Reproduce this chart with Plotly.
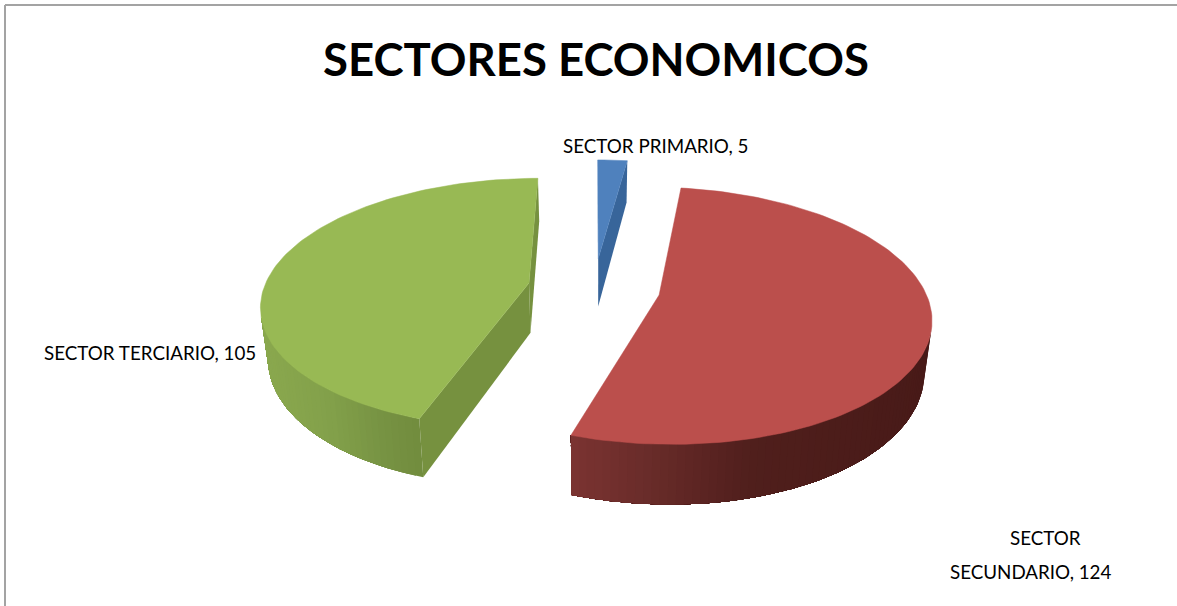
import math
import plotly.graph_objects as go

# ---- data ----
categories = ["SECTOR PRIMARIO", "SECTOR SECUNDARIO", "SECTOR TERCIARIO"]
values = [5, 124, 105]
top_colors = ["#4f81bd", "#bb4f4c", "#98b954"]
radial_wall_colors = ["#38659a", "#5a2422", "#76913f"]
# wall shading stops: (fraction across the visible wall, colour)
wall_stops = [
    [(0, (0x38, 0x65, 0x9a)), (1, (0x38, 0x65, 0x9a))],
    [(0, (0x7a, 0x33, 0x31)), (0.2, (0x6a, 0x2c, 0x2a)), (0.5, (0x50, 0x1f, 0x1c)), (1, (0x48, 0x1a, 0x18))],
    [(0, (0x8a, 0xa8, 0x4e)), (0.45, (0x82, 0xa0, 0x4a)), (0.8, (0x76, 0x92, 0x42)), (1, (0x72, 0x8d, 0x3e))],
]
title_text = "SECTORES ECONOMICOS"

# ---- projection of the tilted, exploded pie ----
W, H = 1177, 606
CX, CY = 594.0, 288.0
A, B, K = 265.0, 123.0, 0.16
A_B, B_B, DROP = 259.0, 131.0, 50.0
EXPLODE = 0.25


def project(x, v, bottom=False):
    d = 1 + K * v
    if bottom:
        return CX + A_B * x / d, CY + DROP - B_B * v / d
    return CX + A * x / d, CY - B * v / d


def mix(stops, f):
    for (f0, c0), (f1, c1) in zip(stops, stops[1:]):
        if f <= f1:
            t = (f - f0) / (f1 - f0) if f1 > f0 else 0
            return "rgb(%d,%d,%d)" % tuple(round(a + (b - a) * t) for a, b in zip(c0, c1))
    return "rgb(%d,%d,%d)" % stops[-1][1]


def poly(points, color, width=0.0):
    xs = [p[0] for p in points] + [points[0][0]]
    ys = [p[1] for p in points] + [points[0][1]]
    return go.Scatter(x=xs, y=ys, mode="lines", fill="toself", fillcolor=color,
                      line=dict(color=color, width=width), hoverinfo="skip", showlegend=False)


fig = go.Figure()
total = sum(values)
start = 0.0
for i, val in enumerate(values):
    sweep = val / total * 2 * math.pi
    end = start + sweep
    mid = (start + end) / 2
    ox, ov = EXPLODE * math.sin(mid), EXPLODE * math.cos(mid)
    n = max(4, int(sweep / math.radians(1.5)))
    angles = [start + sweep * j / n for j in range(n + 1)]
    ground = [(ox + math.sin(t), ov + math.cos(t)) for t in angles]
    apex = (ox, ov)

    def facing(a, b):
        pa, pb = project(*a), project(*b)
        qa = project(*a, bottom=True)
        ex, ey = pb[0] - pa[0], pb[1] - pa[1]
        dx, dy = qa[0] - pa[0], qa[1] - pa[1]
        return ey * dx - ex * dy > 0

    # straight cut walls
    for a, b in ((apex, ground[0]), (ground[-1], apex)):
        if facing(a, b):
            fig.add_trace(poly([project(*a), project(*b), project(*b, bottom=True),
                                project(*a, bottom=True)], radial_wall_colors[i]))
    # curved outer wall, shaded left to right; each band runs on to the end of
    # the wall and is overpainted by the next, so no seams show
    visible = [j for j in range(n) if facing(ground[j], ground[j + 1])]
    if visible:
        xs = [project(*ground[j])[0] for j in visible]
        lo, hi = min(xs), max(xs)
        last = visible[-1] + 1
        for j in visible:
            span = ground[j:last + 1]
            f = (project(*ground[j])[0] - lo) / ((hi - lo) or 1)
            pts = [project(*g) for g in span] + [project(*g, bottom=True) for g in reversed(span)]
            fig.add_trace(poly(pts, mix(wall_stops[i], f)))
    # top face
    fig.add_trace(poly([project(*apex)] + [project(*g) for g in ground], top_colors[i], 0.5))
    start = end

LABEL_FONT = dict(family="Lato", size=18.8, color="#000000")
labels = [
    (f"{categories[0]}, {values[0]}", 655, 145),
    (f"{categories[2]}, {values[2]}", 150, 352),
    ("SECTOR", 1045, 537),
    (f"SECUNDARIO, {values[1]}", 1030, 571),
]
annotations = [dict(text=t, x=x, y=y, xref="x", yref="y", showarrow=False, font=LABEL_FONT,
                    xanchor="center", yanchor="middle") for t, x, y in labels]

border = dict(color="#a3a3a3", width=2)
shapes = [
    dict(type="line", xref="x", yref="y", x0=5, y0=5, x1=W, y1=5, line=border),
    dict(type="line", xref="x", yref="y", x0=5, y0=5, x1=5, y1=H, line=border),
]

fig.update_layout(
    width=W, height=H, margin=dict(l=0, r=0, t=0, b=0),
    paper_bgcolor="#ffffff", plot_bgcolor="#ffffff", showlegend=False,
    title=dict(text=f"<b>{title_text}</b>", x=596 / W, y=1 - 60 / H, xanchor="center", yanchor="middle",
               xref="paper", yref="paper", font=dict(family="Lato", size=45.5, color="#000000")),
    xaxis=dict(range=[0, W], visible=False, fixedrange=True),
    yaxis=dict(range=[H, 0], visible=False, fixedrange=True),
    annotations=annotations, shapes=shapes,
)
fig.write_html("out.html", config=dict(displayModeBar=False),
               post_script="document.body.style.margin='0';document.body.style.overflow='hidden';")
